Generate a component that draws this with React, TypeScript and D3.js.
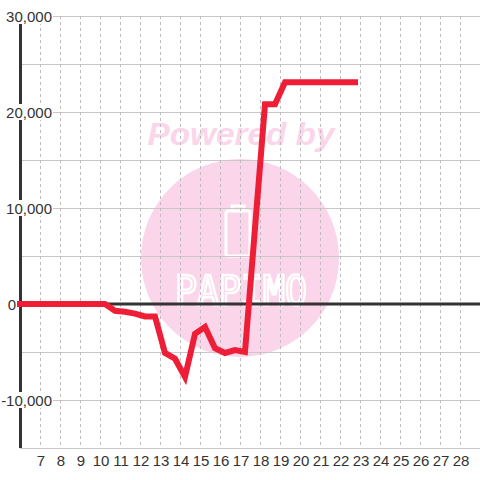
import React from "react";
import * as d3 from "d3";

// data: day-of-month (decimal) and balance values
const days: number[] = [6, 10.25, 10.75, 11.25, 11.75, 12.25, 12.75, 13.25, 13.75, 14.25, 14.75, 15.25, 15.75, 16.25, 16.75, 17.25, 17.75, 18.25, 18.75, 19.25, 19.75, 20.25, 20.75, 21.25, 21.75, 22.25, 22.75];
const values: number[] = [0, 0, -700, -800, -1000, -1300, -1300, -5100, -5700, -7600, -3100, -2400, -4600, -5100, -4800, -5000, 7900, 20800, 20800, 23100, 23100, 23100, 23100, 23100, 23100, 23100, 23100];
const xTickDays: number[] = [7, 8, 9, 10, 11, 12, 13, 14, 15, 16, 17, 18, 19, 20, 21, 22, 23, 24, 25, 26, 27, 28];
const yGridValues: number[] = [-15000, -10000, -5000, 0, 5000, 10000, 15000, 20000, 25000, 30000];
const yLabelValues: number[] = [-10000, 0, 10000, 20000, 30000];

const W = 480;
const H = 480;
const FONT = "'Liberation Sans', Arial, Helvetica, sans-serif";
const PINK = "rgb(251,213,234)";

export default function App() {
  const x = d3.scaleLinear().domain([6, 29]).range([20, 480]);
  const y = d3.scaleLinear().domain([-15000, 30000]).range([448, 16]);
  const fmt = d3.formatLocale({ decimal: ".", thousands: ",", grouping: [3], currency: ["", ""], minus: "-" }).format(",");
  const pts = days.map((d, i) => [d, values[i]] as [number, number]);
  const line = d3.line<[number, number]>().x((p) => x(p[0])).y((p) => y(p[1]));

  return (
    <svg width={W} height={H} style={{ position: "absolute", left: 0, top: 0, background: "#fff" }}>
      <rect x={0} y={0} width={W} height={H} fill="#ffffff" />
      {/* watermark */}
      <g>
        <text x={241} y={145} textAnchor="middle" fontFamily={FONT} fontWeight="bold" fontStyle="italic" fontSize={32} fill={PINK} textLength={187} lengthAdjust="spacingAndGlyphs">Powered by</text>
        <circle cx={240} cy={258} r={99} fill={PINK} />
        <rect x={226} y={211} width={24} height={45} rx={2} fill="none" stroke="#fff" strokeWidth={3} />
        <path d="M232,211 L232,206 L244,206 L244,211" fill="none" stroke="#fff" strokeWidth={3} />
        <text x={241} y={305} textAnchor="middle" fontFamily="'DejaVu Sans Mono', monospace" fontSize={40} fill="none" stroke="#fff" strokeWidth={2.5} textLength={132} lengthAdjust="spacingAndGlyphs">PAPIMO</text>
      </g>
      {/* horizontal grid */}
      {yGridValues.map((v) => (
        <line key={"h" + v} x1={20} x2={480} y1={y(v) + 0.5} y2={y(v) + 0.5} stroke="#c8c8c8" strokeWidth={1} />
      ))}
      {/* vertical dashed grid */}
      {xTickDays.map((d) => (
        <line key={"v" + d} x1={x(d) + 0.5} x2={x(d) + 0.5} y1={16} y2={448} stroke="#bdbdbd" strokeWidth={1} strokeDasharray="3,3" />
      ))}
      {/* y axis line */}
      <line x1={20.5} x2={20.5} y1={16} y2={448} stroke="#333" strokeWidth={3} />
      {/* zero line */}
      <line x1={20} x2={480} y1={y(0)} y2={y(0)} stroke="#333" strokeWidth={3} />
      {/* series */}
      <path d={line(pts) || ""} fill="none" stroke="#ee1e36" strokeWidth={6} strokeLinecap="square" strokeLinejoin="miter" />
      {/* y labels */}
      {yLabelValues.map((v) => {
        const isZero = v === 0;
        const ex = isZero ? 16 : 52;
        return (
          <g key={"yl" + v}>
            {!isZero && <rect x={0} y={y(v) - 8} width={53} height={16} fill="#fff" />}
            <text x={ex} y={y(v) + 5.5} textAnchor="end" fontFamily={FONT} fontSize={15} fill="#333">{fmt(v)}</text>
          </g>
        );
      })}
      {/* x labels */}
      {xTickDays.map((d) => (
        <text key={"xl" + d} x={x(d) + 1} y={466} textAnchor="middle" fontFamily={FONT} fontSize={15} fill="#333">{d}</text>
      ))}
    </svg>
  );
}
